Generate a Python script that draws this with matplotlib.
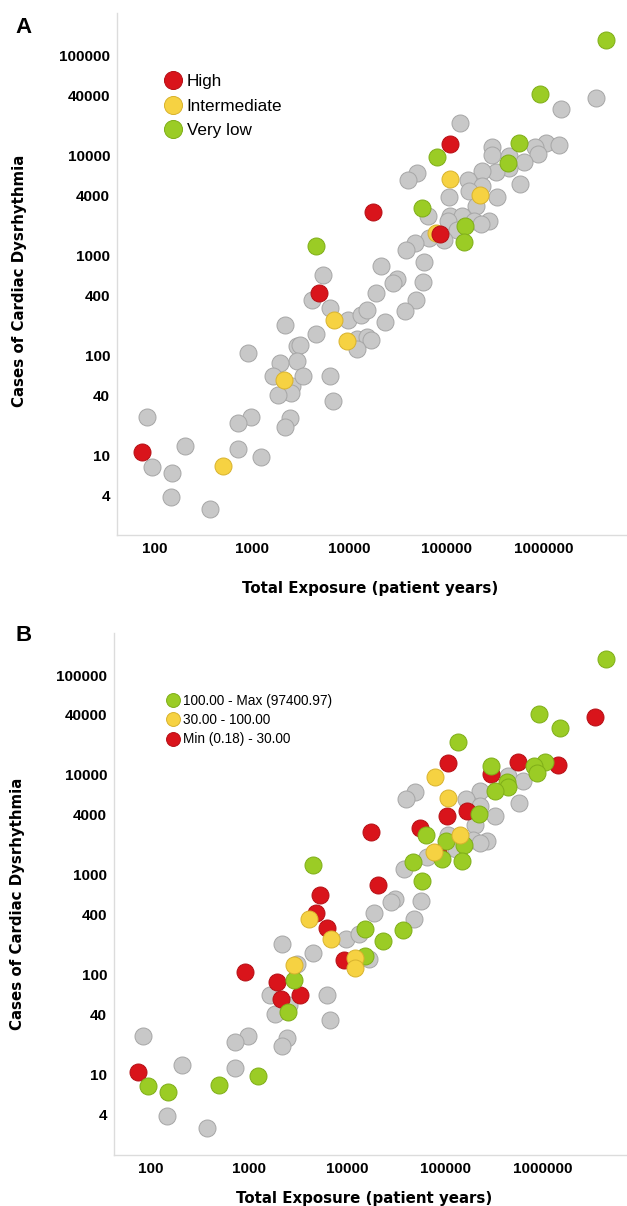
import numpy as np
import matplotlib
matplotlib.use("Agg")
import matplotlib.pyplot as plt
from matplotlib.lines import Line2D
from matplotlib.ticker import FixedLocator, NullLocator

# === Data: one point per drug (exposure in patient years, arrhythmia cases) ===
exposure = [4350000, 910000, 3430000, 1500000, 137000, 107000, 551000, 1050000, 1430000, 811000,
            866000, 292000, 292000, 434000, 79600, 426000, 622000, 438000, 321000, 230000,
            49500, 39900, 108000, 165000, 566000, 230000, 168000, 220000, 327000, 105000,
            200000, 17500, 55600, 64100, 108000, 143000, 103000, 191000, 270000, 226000,
            155000, 128000, 77400, 85100, 65300, 93500, 150000, 47300, 38000, 4510,
            58200, 20900, 5350, 30600, 28100, 56600, 4820, 18700, 48200, 4100,
            37300, 6280, 6920, 9640, 13200, 15200, 23000, 2170, 4510, 9350,
            12000, 15200, 16700, 12000, 910, 2860, 3090, 2860, 1920, 1640,
            2110, 2550, 2480, 3340, 6280, 1830, 6710, 82, 973, 711,
            2440, 2150, 204, 73, 93, 149, 711, 1230, 495, 146,
            367]
cases = [143000, 41200, 38100, 29400, 21500, 13100, 13400, 13400, 12700, 12200,
         10500, 12200, 10200, 9840, 9620, 8460, 8650, 7530, 6870, 6980,
         6710, 5770, 5850, 5770, 5260, 4940, 4410, 4090, 3870, 3870,
         3130, 2720, 2970, 2520, 2500, 2500, 2210, 2240, 2210, 2100,
         2000, 1830, 1690, 1660, 1510, 1430, 1370, 1350, 1140, 1250,
         871, 789, 637, 581, 538, 547, 420, 420, 365, 360,
         282, 298, 228, 228, 255, 286, 216, 203, 165, 140,
         146, 155, 144, 116, 106, 125, 128, 88.5, 85.1, 62.7,
         57.1, 49.8, 42.7, 62.7, 63.1, 40.4, 35.2, 24.6, 24.6, 21.4,
         23.6, 19.5, 12.6, 10.8, 7.77, 6.76, 11.6, 9.78, 7.89, 3.89,
         2.91]

# panel A: risk class (index -> class), everything else unclassified
risk_high = [5, 31, 43, 56, 93]
risk_intermediate = [22, 27, 42, 62, 69, 80, 98]
risk_verylow = [0, 1, 6, 14, 15, 32, 40, 46, 49]

# panel B: ratio bins
ratio_high = [0, 1, 3, 4, 7, 9, 10, 11, 15, 17, 18, 27, 33, 36, 40, 45, 46, 47, 49, 50,
              60, 65, 66, 71, 77, 82, 94, 95, 97, 98]
ratio_mid = [14, 22, 35, 42, 59, 62, 70, 73, 75]
ratio_low = [2, 5, 6, 8, 12, 26, 29, 31, 32, 43, 51, 52, 56, 61, 69, 74, 78, 80, 83, 93]

labels_a = ['High', 'Intermediate', 'Very low']
labels_b = ['100.00 - Max (97400.97)', '30.00 - 100.00', 'Min (0.18) - 30.00']

y_ticks = [4, 10, 40, 100, 400, 1000, 4000, 10000, 40000, 100000]
x_ticks = [100, 1000, 10000, 100000, 1000000]

RED = '#d9141b'
YELLOW = '#f6d242'
GREEN = '#9bcc25'
GRAY = '#c8c8c8'
edge = {RED: '#b50f15', YELLOW: '#d8b22e', GREEN: '#7fae18', GRAY: '#a6a6a6'}

x = np.array(exposure)
y = np.array(cases)

fig = plt.figure(figsize=(6.27, 12.06), dpi=100)
ax_a = fig.add_axes([0.1866, 0.5564, 0.8134, 0.4328])
ax_b = fig.add_axes([0.1818, 0.0423, 0.8182, 0.4328])


def draw_points(ax, groups):
    colored = set(i for idx, _ in groups for i in idx)
    rest = [i for i in range(len(x)) if i not in colored]
    ax.scatter(x[rest], y[rest], s=150, c=GRAY, edgecolors=edge[GRAY], linewidths=0.7, zorder=2)
    for z, (idx, col) in enumerate(groups):
        ax.scatter(x[idx], y[idx], s=150, c=col, edgecolors=edge[col], linewidths=0.7, zorder=3 + z)


def style_axes(ax, xlim, ylim, xlabelpad, xlab_x, ylab_x, ylab_y):
    ax.set_xscale('log')
    ax.set_yscale('log')
    ax.set_xlim(*xlim)
    ax.set_ylim(*ylim)
    ax.xaxis.set_major_locator(FixedLocator(x_ticks))
    ax.yaxis.set_major_locator(FixedLocator(y_ticks))
    ax.xaxis.set_minor_locator(NullLocator())
    ax.yaxis.set_minor_locator(NullLocator())
    ax.set_xticklabels([str(v) for v in x_ticks])
    ax.set_yticklabels([str(v) for v in y_ticks])
    ax.tick_params(length=0, labelsize=11, pad=5)
    for lab in ax.get_xticklabels() + ax.get_yticklabels():
        lab.set_fontfamily('Liberation Sans')
        lab.set_fontweight('bold')
    for s in ['top', 'right']:
        ax.spines[s].set_visible(False)
    for s in ['left', 'bottom']:
        ax.spines[s].set_color('#dcdcdc')
        ax.spines[s].set_linewidth(1.0)
    ax.set_xlabel('Total Exposure (patient years)', fontsize=10.8, fontweight='bold',
                  family='DejaVu Sans', labelpad=xlabelpad)
    ax.xaxis.label.set_x(xlab_x)
    ax.set_ylabel('Cases of Cardiac Dysrhythmia', fontsize=10.8, fontweight='bold',
                  family='DejaVu Sans')
    ax.yaxis.set_label_coords(ylab_x, ylab_y)


# Panel A
draw_points(ax_a, [(risk_verylow, GREEN), (risk_intermediate, YELLOW), (risk_high, RED)])
style_axes(ax_a, (40.5, 7.1e6), (1.61, 2.68e5), 18, 0.496, -0.176, 0.487)
handles_a = [Line2D([], [], ls='', marker='o', ms=13, mfc=c, mec=edge[c], mew=0.7)
             for c in [RED, YELLOW, GREEN]]
ax_a.legend(handles_a, labels_a, loc='upper left', bbox_to_anchor=(0.0765, 0.899),
            frameon=False, prop={'family': 'Liberation Sans', 'size': 12.3},
            handlelength=1.0, handletextpad=0.3, labelspacing=0.55, borderpad=0)
fig.text(0.038, 0.977, 'A', fontsize=16, fontweight='bold', family='Liberation Sans',
         ha='center', va='center')

# Panel B
draw_points(ax_b, [(ratio_low, RED), (ratio_high, GREEN), (ratio_mid, YELLOW)])
style_axes(ax_b, (41.7, 7.2e6), (1.58, 2.63e5), 11, 0.487, -0.173, 0.481)
handles_b = [Line2D([], [], ls='', marker='o', ms=10, mfc=c, mec=edge[c], mew=0.7)
             for c in [GREEN, YELLOW, RED]]
ax_b.legend(handles_b, labels_b, loc='upper left', bbox_to_anchor=(0.092, 0.897),
            frameon=False, prop={'family': 'Liberation Sans', 'size': 9.8},
            handlelength=0.8, handletextpad=0.3, labelspacing=0.4, borderpad=0)
fig.text(0.037, 0.473, 'B', fontsize=16, fontweight='bold', family='Liberation Sans',
         ha='center', va='center')

fig.savefig('out.png', dpi=100)
